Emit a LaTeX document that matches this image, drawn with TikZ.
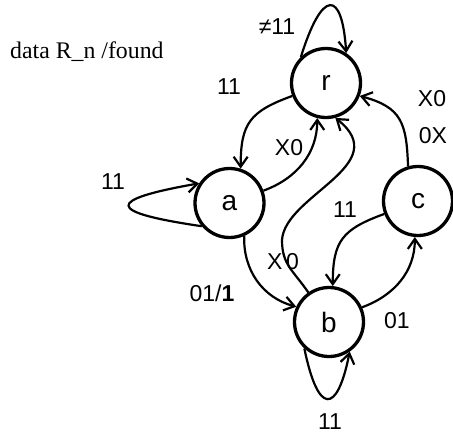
\documentclass[tikz,border=0pt]{standalone}
\usepackage{fontspec}
\setmainfont{Liberation Serif}
\setsansfont{Liberation Sans}
\usetikzlibrary{arrows.meta, positioning}

\begin{document}
\begin{tikzpicture}[
  x=1pt, y=1pt,
  state/.style={draw, circle, line width=3.3pt, minimum size=69pt,
    inner sep=0pt, font=\sffamily\fontsize{28}{30}\selectfont},
  trans/.style={line width=2.2pt, -{Straight Barb[length=10pt,width=14pt]}},
  lbl/.style={inner sep=0pt, font=\sffamily\fontsize{23}{26}\selectfont}
]
\useasboundingbox (0,0) rectangle (453,-434);

\node[state] (r) at (326,-83) {r};
\node[state] (a) at (229.5,-203) {a};
\node[state] (c) at (418,-201) {c};
\node[state] (b) at (329,-322) {b};

\node[anchor=base west, inner sep=0pt, font=\fontsize{23.8}{28}\selectfont]
    (head) at (10,-58) {data R\_n /found};

\draw[trans] (r.134) .. controls (322,11) and (342,11) .. (r.56);
\draw[trans] (r.201) to[out=200,in=90,looseness=1.3] (a.72);
\draw[trans] (a.20) to[out=20,in=-90] (r.256);
\draw[trans] (b.125) .. controls (293,-270) and (282,-265) .. (282,-240)
    .. controls (285,-195) and (395,-165) .. (r.285);
\draw[trans] (c.106) to[out=92,in=-15,looseness=1.3] (r.339);
\draw[trans] (c.201) to[out=200,in=90,looseness=1.3] (b.84);
\draw[trans] (b.24) to[out=20,in=-90] (c.265);
\draw[trans] (a.-66) to[out=-92,in=165] (b.155);
\draw[trans] (a.220) .. controls (105,-212) and (105,-200) .. (a.147);
\draw[trans] (b.227) .. controls (318,-415) and (337,-415) .. (b.305);

\node[lbl] (rr) at (277,-27) {≠11};
\node[lbl] (ra) at (229,-87) {11};
\node[lbl] (ar) at (289,-148) {X0};
\node[lbl] (br) at (283,-262) {X\,0};
\node[lbl] (cr1) at (432,-99) {X0};
\node[lbl] (cr2) at (433,-136) {0X};
\node[lbl] (cb) at (345,-210) {11};
\node[lbl] (aa) at (113,-182) {11};
\node[lbl] (bc) at (397,-321) {01};
\node[lbl] (ab) at (212,-293) {01/\textbf{1}};
\node[lbl] (bb) at (330,-422) {11};
\end{tikzpicture}
\end{document}
